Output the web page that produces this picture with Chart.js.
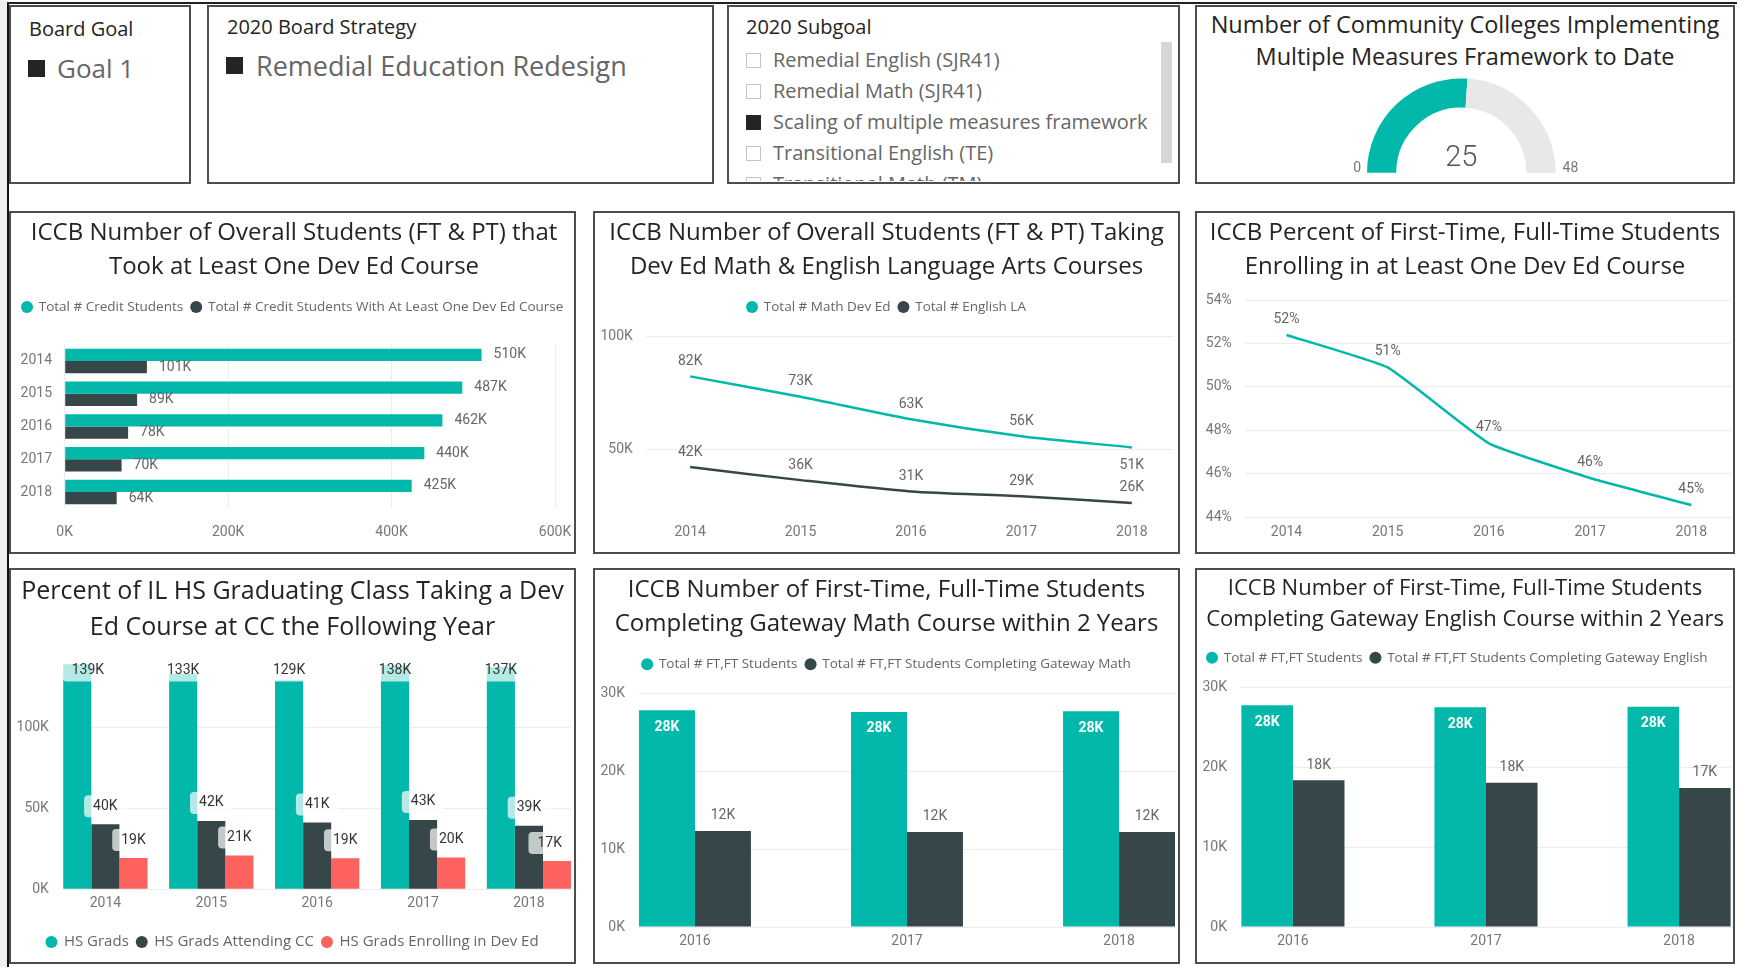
<!DOCTYPE html>
<html>
<head>
<meta charset="utf-8">
<script src="https://cdn.jsdelivr.net/npm/chart.js@4.4.1/dist/chart.umd.min.js"></script>
<style>
html,body{margin:0;padding:0;}
body{width:1737px;height:967px;position:relative;overflow:hidden;background:#fff;font-family:'Open Sans','Noto Sans',sans-serif;}
.abs{position:absolute;}
.box{position:absolute;box-sizing:border-box;border:2px solid #4d4d4d;background:#fff;}
.box canvas{position:absolute;left:0;top:0;}
.txt{position:absolute;white-space:nowrap;}
.sq{position:absolute;background:#252423;}
.chk{position:absolute;box-sizing:border-box;width:15px;height:15px;border:1.5px solid #c4c4c4;background:#fff;}
.chk.on{background:#252423;border-color:#252423;}
</style>
</head>
<body>
<div class="abs" style="left:0;top:0;width:7px;height:967px;background:#efefef"></div>
<div class="abs" style="left:7px;top:2px;width:2px;height:965px;background:#111"></div>
<div class="abs" style="left:7px;top:2px;width:1730px;height:2px;background:#222"></div>

<!-- slicer: Board Goal -->
<div class="box" style="left:9px;top:5px;width:182px;height:179px"></div>
<div class="txt" style="left:29px;top:16px;font-size:20px;line-height:25px;color:#252423">Board Goal</div>
<div class="sq" style="left:28px;top:60px;width:17px;height:17px"></div>
<div class="txt" style="left:57px;top:51px;font-size:26px;line-height:34px;color:#666">Goal 1</div>

<!-- slicer: Board Strategy -->
<div class="box" style="left:207px;top:5px;width:507px;height:179px"></div>
<div class="txt" style="left:227px;top:14px;font-size:20px;line-height:25px;color:#252423">2020 Board Strategy</div>
<div class="sq" style="left:226px;top:57px;width:17px;height:17px"></div>
<div class="txt" style="left:256px;top:48px;font-size:27px;line-height:36px;color:#666">Remedial Education Redesign</div>

<!-- slicer: Subgoal -->
<div class="box" style="left:727px;top:5px;width:453px;height:179px"></div>
<div class="txt" style="left:746px;top:14px;font-size:20px;line-height:25px;color:#252423">2020 Subgoal</div>
<div id="subgoalList" class="abs" style="left:740px;top:42px;width:415px;height:139px;overflow:hidden"></div>
<div class="abs" style="left:1161px;top:42px;width:11px;height:121px;background:#d6d6d6"></div>

<!-- gauge -->
<div class="box" style="left:1195px;top:5px;width:540px;height:179px"></div>
<div class="txt" style="left:1195px;top:7.5px;width:540px;text-align:center;font-size:23.5px;line-height:32px;color:#252423">Number of Community Colleges Implementing<br>Multiple Measures Framework to Date</div>
<canvas id="gauge" class="abs" width="270" height="120" style="left:1330px;top:60px"></canvas>

<!-- charts -->
<div class="box" style="left:9px;top:211px;width:567px;height:343px"><canvas id="c1" width="563" height="339"></canvas></div>
<div class="box" style="left:593px;top:211px;width:587px;height:343px"><canvas id="c2" width="583" height="339"></canvas></div>
<div class="box" style="left:1195px;top:211px;width:540px;height:343px"><canvas id="c3" width="536" height="339"></canvas></div>
<div class="box" style="left:9px;top:568px;width:567px;height:396px"><canvas id="c4" width="563" height="392"></canvas></div>
<div class="box" style="left:593px;top:568px;width:587px;height:396px"><canvas id="c5" width="583" height="392"></canvas></div>
<div class="box" style="left:1195px;top:568px;width:540px;height:396px"><canvas id="c6" width="536" height="392"></canvas></div>

<script>
// ---------------- data ----------------
const years = ['2014', '2015', '2016', '2017', '2018'];
const cohortYears = ['2016', '2017', '2018'];

const creditStudents = [510100, 486600, 462200, 440100, 424600];
const creditDevEd = [100600, 88600, 77600, 69600, 63600];

const mathDevEd = [82400, 73400, 63400, 55900, 50900];
const englishLA = [42200, 36400, 31400, 29300, 26300];

const pctFtftDevEd = [52.4, 50.9, 47.4, 45.8, 44.55];

const hsGrads = [138900, 133200, 129100, 138100, 137200];
const hsGradsCC = [40100, 42200, 41300, 42800, 39300];
const hsGradsDevEd = [19300, 20900, 19200, 19600, 17400];

const ftftMath = [27780, 27560, 27650];
const ftftMathDone = [12300, 12180, 12180];
const ftftEng = [27790, 27540, 27620];
const ftftEngDone = [18390, 18090, 17430];

const gaugeValue = 25;
const gaugeMax = 48;

const ticksChart1 = [0, 200000, 400000, 600000];
const ticksChart2 = [50000, 100000];
const ticksChart3 = [44, 46, 48, 50, 52, 54];
const ticksChart4 = [0, 50000, 100000];
const ticksGateway = [0, 10000, 20000, 30000];

const subgoals = ['Remedial English (SJR41)', 'Remedial Math (SJR41)', 'Scaling of multiple measures framework', 'Transitional English (TE)', 'Transitional Math (TM)'];
const subgoalSelected = [false, false, true, false, false];

// ---------------- style ----------------
const FONT_T = "'Open Sans','Noto Sans',sans-serif";
const FONT_N = "Roboto,'Liberation Sans',sans-serif";
const TEAL = '#01B8AA', DARK = '#374649', RED = '#FD625E';
const GRID = '#ECECEC', TICK = '#777777', LBL = '#666666';
Chart.defaults.font.family = FONT_N;

// subgoal list
(function () {
  const list = document.getElementById('subgoalList');
  subgoals.forEach((s, i) => {
    const cy = 18 + i * 31;
    const c = document.createElement('div');
    c.className = 'chk' + (subgoalSelected[i] ? ' on' : '');
    c.style.left = '6px'; c.style.top = (cy - 7.5) + 'px';
    list.appendChild(c);
    const t = document.createElement('div');
    t.className = 'txt';
    t.style.cssText = 'left:33px;top:' + (cy - 14) + 'px;font-size:20px;line-height:28px;color:#666';
    t.textContent = s;
    list.appendChild(t);
  });
})();

const kFmt = v => Math.round(v / 1000) + 'K';
const pctFmt = v => Math.round(v) + '%';
const xy = arr => arr.map((v, i) => ({ x: i, y: v }));

// spacer box plugin (adds empty layout space below top boxes)
const spacerPlugin = {
  id: 'spacer',
  defaults: { top: 0 },
  beforeInit(chart, args, opts) {
    if (!opts.top) return;
    const h = opts.top;
    Chart.layouts.addBox(chart, {
      position: 'top', weight: -100, fullSize: true, options: {},
      isHorizontal() { return true; },
      update(maxWidth) { this.width = maxWidth; this.height = h; },
      getPadding() { return { left: 0, right: 0, top: 0, bottom: 0 }; },
      draw() {}
    });
  }
};

// data label plugin
const labelPlugin = {
  id: 'vlabels',
  afterDatasetsDraw(chart) {
    const ctx = chart.ctx, area = chart.chartArea;
    const horiz = chart.options.indexAxis === 'y';
    chart.data.datasets.forEach((ds, di) => {
      const L = ds.lbl;
      if (!L) return;
      const meta = chart.getDatasetMeta(di);
      meta.data.forEach((el, i) => {
        const p = meta.controller.getParsed(i);
        const val = horiz ? p.x : p.y;
        const text = L.fmt(val);
        ctx.save();
        ctx.font = L.font || ('14px ' + FONT_N);
        const tw = ctx.measureText(text).width;
        let { x, y } = L.pos(el, i, area);
        if (L.box) {
          const bw = tw + 2 * L.box.px, bh = L.box.h;
          let bx = x - bw / 2;
          if (bx < area.left) bx = area.left;
          if (bx + bw > area.right) bx = area.right - bw;
          x = bx + bw / 2;
          ctx.fillStyle = L.box.fill;
          ctx.beginPath();
          if (ctx.roundRect) ctx.roundRect(bx, y - bh / 2, bw, bh, L.box.r); else ctx.rect(bx, y - bh / 2, bw, bh);
          ctx.fill();
        }
        ctx.fillStyle = L.color || LBL;
        ctx.textAlign = L.align || 'center';
        ctx.textBaseline = 'middle';
        ctx.fillText(text, x, y);
        ctx.restore();
      });
    });
  }
};

function titleOpt(lines, size, lh, padTop, padBottom) {
  return { display: true, text: lines, color: '#252423',
    font: { family: FONT_T, size: size, weight: 'normal', lineHeight: lh + 'px' },
    padding: { top: padTop, bottom: padBottom } };
}
function legendOpt(position, align, size) {
  return { display: true, position: position, align: align,
    labels: { usePointStyle: true, pointStyle: 'circle', boxWidth: 10, boxHeight: 8.5, padding: 8,
      color: '#666', font: { family: FONT_T, size: size },
      generateLabels: chart => Chart.defaults.plugins.legend.labels.generateLabels(chart)
        .map((l, i) => Object.assign(l, { lineWidth: 0, fillStyle: chart.data.datasets[i].backgroundColor })) } };
}
function xIndexAxis(labels, min, max, height, tickLen) {
  return { type: 'linear', min: min, max: max, offset: false,
    afterBuildTicks: s => { s.ticks = labels.map((_, i) => ({ value: i })); },
    ticks: { callback: v => labels[v], color: TICK, font: { size: 14 }, padding: 0, autoSkip: false, maxRotation: 0 },
    grid: { display: true, offset: false, drawOnChartArea: false, drawTicks: true, tickLength: tickLen, tickColor: 'rgba(0,0,0,0)', color: 'rgba(0,0,0,0)' },
    border: { display: false },
    afterFit: s => { s.height = height; } };
}
function yValueAxis(min, max, ticks, fmt, width, pad) {
  return { type: 'linear', min: min, max: max,
    afterBuildTicks: s => { s.ticks = ticks.map(v => ({ value: v })); },
    ticks: { callback: v => fmt(v), color: TICK, font: { size: 14 }, padding: pad },
    grid: { color: GRID, drawTicks: false },
    border: { display: false },
    afterFit: s => { s.width = width; } };
}
const base = { responsive: false, animation: false, events: [], maintainAspectRatio: false };

// ---------- Chart 1 ----------
new Chart(document.getElementById('c1'), {
  type: 'bar',
  data: { labels: years, datasets: [
    { label: 'Total # Credit Students', data: creditStudents, backgroundColor: TEAL, categoryPercentage: 0.75, barPercentage: 1,
      lbl: { fmt: kFmt, align: 'left', pos: el => ({ x: el.x + 12, y: el.y }) } },
    { label: 'Total # Credit Students With At Least One Dev Ed Course', data: creditDevEd, backgroundColor: DARK, categoryPercentage: 0.75, barPercentage: 1,
      lbl: { fmt: kFmt, align: 'left', pos: el => ({ x: el.x + 12, y: el.y }) } }
  ] },
  options: Object.assign({}, base, {
    indexAxis: 'y',
    layout: { padding: { left: 3, right: 0, top: 0, bottom: 0 } },
    scales: {
      x: { type: 'linear', min: 0, max: 623250,
        afterBuildTicks: s => { s.ticks = ticksChart1.map(v => ({ value: v })); },
        ticks: { callback: v => kFmt(v), color: TICK, font: { size: 14 }, padding: 0 },
        grid: { color: GRID, drawTicks: true, tickLength: 15.9, tickColor: 'rgba(0,0,0,0)' },
        border: { display: false },
        afterFit: s => { s.height = 43.6; } },
      y: { ticks: { color: TICK, font: { size: 14 }, padding: 12.7 },
        grid: { display: false, drawTicks: false }, border: { display: false },
        afterFit: s => { s.width = 50.7; } }
    },
    plugins: {
      title: titleOpt(['ICCB Number of Overall Students (FT & PT) that', 'Took at Least One Dev Ed Course'], 24, 34, 3.5, 7.75),
      legend: legendOpt('top', 'start', 13.5),
      spacer: { top: 20.85 },
      tooltip: { enabled: false }
    }
  }),
  plugins: [spacerPlugin, labelPlugin]
});

// ---------- Chart 2 ----------
new Chart(document.getElementById('c2'), {
  type: 'line',
  data: { datasets: [
    { label: 'Total # Math Dev Ed', data: xy(mathDevEd), borderColor: TEAL, backgroundColor: TEAL, borderWidth: 2.5, pointRadius: 0, tension: 0.25,
      lbl: { fmt: kFmt, pos: (el, i) => ({ x: el.x, y: i === mathDevEd.length - 1 ? el.y + 18 : el.y - 15 }) } },
    { label: 'Total # English LA', data: xy(englishLA), borderColor: DARK, backgroundColor: DARK, borderWidth: 2.5, pointRadius: 0, tension: 0.25,
      lbl: { fmt: kFmt, pos: el => ({ x: el.x, y: el.y - 15 }) } }
  ] },
  options: Object.assign({}, base, {
    layout: { padding: { left: 4, right: 4, top: 0, bottom: 0 } },
    scales: {
      x: xIndexAxis(years, -0.4, 4.382, 34.9, 6.5),
      y: yValueAxis(20000, 100000, ticksChart2, kFmt, 47, 13.2)
    },
    plugins: {
      title: titleOpt(['ICCB Number of Overall Students (FT & PT) Taking', 'Dev Ed Math & English Language Arts Courses'], 24, 34, 3.5, 7.75),
      legend: legendOpt('top', 'center', 13.5),
      spacer: { top: 12.95 },
      tooltip: { enabled: false }
    }
  }),
  plugins: [spacerPlugin, labelPlugin]
});

// ---------- Chart 3 ----------
new Chart(document.getElementById('c3'), {
  type: 'line',
  data: { datasets: [
    { label: 'Percent FT,FT in Dev Ed', data: xy(pctFtftDevEd), borderColor: TEAL, backgroundColor: TEAL, borderWidth: 2.5, pointRadius: 0, tension: 0.12,
      lbl: { fmt: pctFmt, pos: el => ({ x: el.x, y: el.y - 15.5 }) } }
  ] },
  options: Object.assign({}, base, {
    layout: { padding: { left: 2.2, right: 2.2, top: 0, bottom: 0 } },
    scales: {
      x: xIndexAxis(years, -0.41, 4.39, 35, 6.6),
      y: yValueAxis(44, 54, ticksChart3, pctFmt, 45.8, 13.2)
    },
    plugins: {
      title: titleOpt(['ICCB Percent of First-Time, Full-Time Students', 'Enrolling in at Least One Dev Ed Course'], 24, 34, 3.5, -1),
      legend: { display: false },
      spacer: { top: 16.8 },
      tooltip: { enabled: false }
    }
  }),
  plugins: [spacerPlugin, labelPlugin]
});

// ---------- Chart 4 ----------
const boxLbl = { px: 9, h: 22, r: 4, fill: 'rgba(255,255,255,0.7)' };
const c4pos = (el, i, area) => ({ x: el.x, y: Math.max(el.y - 18, area.top + 8) });
new Chart(document.getElementById('c4'), {
  type: 'bar',
  data: { datasets: [
    { label: 'HS Grads', data: xy(hsGrads), backgroundColor: TEAL, categoryPercentage: 0.796, barPercentage: 1,
      lbl: { fmt: kFmt, color: '#333', box: boxLbl, pos: c4pos } },
    { label: 'HS Grads Attending CC', data: xy(hsGradsCC), backgroundColor: DARK, categoryPercentage: 0.796, barPercentage: 1,
      lbl: { fmt: kFmt, color: '#333', box: boxLbl, pos: c4pos } },
    { label: 'HS Grads Enrolling in Dev Ed', data: xy(hsGradsDevEd), backgroundColor: RED, categoryPercentage: 0.796, barPercentage: 1,
      lbl: { fmt: kFmt, color: '#333', box: boxLbl, pos: c4pos } }
  ] },
  options: Object.assign({}, base, {
    layout: { padding: { left: 3, right: 3, top: 0, bottom: 2.5 } },
    scales: {
      x: xIndexAxis(years, -0.403, 4.397, 37.2, 6),
      y: yValueAxis(0, 140000, ticksChart4, kFmt, 48.7, 13.8)
    },
    plugins: {
      title: titleOpt(['Percent of IL HS Graduating Class Taking a Dev', 'Ed Course at CC the Following Year'], 25, 36, 4, -1),
      legend: legendOpt('bottom', 'center', 15),
      spacer: { top: 17.5 },
      tooltip: { enabled: false }
    }
  }),
  plugins: [spacerPlugin, labelPlugin]
});

// ---------- Chart 5 & 6 ----------
function gatewayChart(id, title, tsize, tlh, tpadTop, tpadBottom, legendAlign, spacerTop, total, done, doneLabel, xmin, xmax, catPct, padLR, yWidth) {
  new Chart(document.getElementById(id), {
    type: 'bar',
    data: { datasets: [
      { label: 'Total # FT,FT Students', data: xy(total), backgroundColor: TEAL, categoryPercentage: catPct, barPercentage: 1,
        lbl: { fmt: kFmt, color: '#fff', font: 'bold 14px ' + FONT_N, pos: el => ({ x: el.x, y: el.y + 16.7 }) } },
      { label: doneLabel, data: xy(done), backgroundColor: DARK, categoryPercentage: catPct, barPercentage: 1,
        lbl: { fmt: kFmt, pos: el => ({ x: el.x, y: el.y - 15.2 }) } }
    ] },
    options: Object.assign({}, base, {
      layout: { padding: { left: padLR, right: padLR, top: 0, bottom: 0 } },
      scales: {
        x: xIndexAxis(cohortYears, xmin, xmax, 35, 6.3),
        y: yValueAxis(0, 30000, ticksGateway, kFmt, yWidth, 14)
      },
      plugins: {
        title: titleOpt(title, tsize, tlh, tpadTop, tpadBottom),
        legend: legendOpt('top', legendAlign, 13.5),
        spacer: { top: spacerTop },
        tooltip: { enabled: false }
      }
    }),
    plugins: [spacerPlugin, labelPlugin]
  });
}
gatewayChart('c5', ['ICCB Number of First-Time, Full-Time Students', 'Completing Gateway Math Course within 2 Years'], 24, 34, 3.3, 8.25, 'center', 11.95,
  ftftMath, ftftMathDone, 'Total # FT,FT Students Completing Gateway Math', -0.264, 2.264, 0.528, 3, 41);
gatewayChart('c6', ['ICCB Number of First-Time, Full-Time Students', 'Completing Gateway English Course within 2 Years'], 22, 31.5, 2.5, 7.45, 'start', 13.25,
  ftftEng, ftftEngDone, 'Total # FT,FT Students Completing Gateway English', -0.269, 2.269, 0.534, 2, 42);

// ---------- Gauge ----------
const gaugeLabels = {
  id: 'gaugeLabels',
  afterDraw(chart) {
    const arc = chart.getDatasetMeta(0).data[0];
    const ctx = chart.ctx, cx = arc.x, cy = arc.y, R = arc.outerRadius;
    ctx.save();
    ctx.textBaseline = 'alphabetic';
    ctx.fillStyle = '#777';
    ctx.font = '14px ' + FONT_N;
    ctx.textAlign = 'right';
    ctx.fillText('0', cx - R - 6, cy - 0.5);
    ctx.textAlign = 'left';
    ctx.fillText(String(gaugeMax), cx + R + 7, cy - 0.5);
    ctx.fillStyle = '#555';
    ctx.font = '300 29px ' + FONT_N;
    ctx.textAlign = 'center';
    ctx.textBaseline = 'middle';
    ctx.fillText(String(gaugeValue), cx, cy - 14);
    ctx.restore();
  }
};
new Chart(document.getElementById('gauge'), {
  type: 'doughnut',
  data: { labels: ['Implementing', 'Remaining'], datasets: [{
    data: [gaugeValue, gaugeMax - gaugeValue], backgroundColor: [TEAL, '#E8E8E8'],
    borderWidth: 0, hoverBorderWidth: 0, hoverOffset: 0 }] },
  options: Object.assign({}, base, {
    rotation: -90, circumference: 180, cutout: '69%',
    layout: { padding: { left: 37, right: 44.4, top: 18.4, bottom: 7.3 } },
    plugins: { legend: { display: false }, tooltip: { enabled: false } }
  }),
  plugins: [gaugeLabels]
});
</script>
</body>
</html>
